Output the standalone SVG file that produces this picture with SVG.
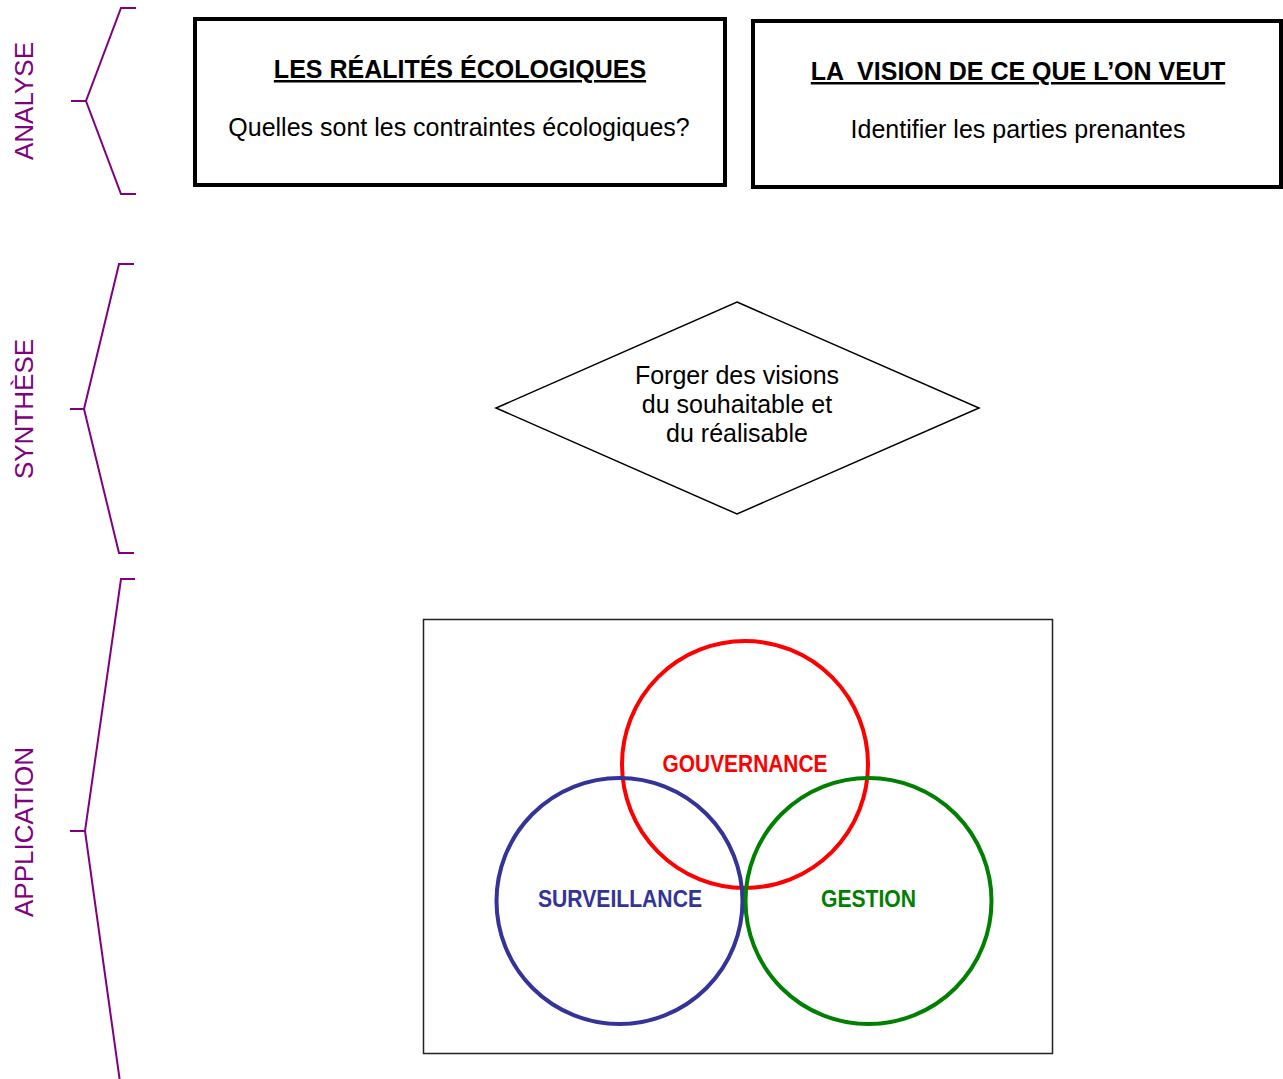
<svg xmlns="http://www.w3.org/2000/svg" width="1283" height="1079" viewBox="0 0 1283 1079">
<style>
.brace{fill:none;stroke:#800080;stroke-width:2}
.side{font-family:"Liberation Sans",Arial,sans-serif;font-size:26px;fill:#800080;text-anchor:middle}
.box{fill:#fff;stroke:#000;stroke-width:4}
.t{font-family:"Liberation Sans",Arial,sans-serif;font-size:25px;fill:#000;text-anchor:middle}
.title{font-weight:bold;text-decoration:underline}
.venn{fill:none;stroke-width:4}
.lab{font-family:"Liberation Sans",Arial,sans-serif;font-size:23px;font-weight:bold;text-anchor:middle}
</style>
<rect width="1283" height="1079" fill="#fff"/>
<g id="analyse">
<path class="brace" d="M136,8 H121 L86,101 L121,194 H136 M71,101 H86"/>
<text class="side" transform="translate(33,101) rotate(-90)">ANALYSE</text>
</g>
<g id="synthese">
<path class="brace" d="M134,264 H119 L84,409 L119,553 H134 M70,409 H84"/>
<text class="side" transform="translate(33,409) rotate(-90)">SYNTHÈSE</text>
</g>
<g id="application">
<path class="brace" d="M135,579 H121 L85,831 L120,1082 M70,831 H85"/>
<text class="side" transform="translate(33,832) rotate(-90)">APPLICATION</text>
</g>
<g id="realites">
<rect class="box" x="195" y="19" width="530" height="166"/>
<text class="t title" x="460" y="78">LES RÉALITÉS ÉCOLOGIQUES</text>
<text class="t" x="459" y="136">Quelles sont les contraintes écologiques?</text>
</g>
<g id="vision">
<rect class="box" x="753" y="21" width="528" height="166"/>
<text class="t title" x="1018" y="80" xml:space="preserve">LA  VISION DE CE QUE L’ON VEUT</text>
<text class="t" x="1018" y="138">Identifier les parties prenantes</text>
</g>
<g id="forger">
<polygon points="737,302 979,408 737,514 496,408" fill="#fff" stroke="#000" stroke-width="1.5"/>
<text class="t" x="737" y="384">Forger des visions</text>
<text class="t" x="737" y="413">du souhaitable et</text>
<text class="t" x="737" y="442">du réalisable</text>
</g>
<g id="cadre">
<rect x="423.5" y="619.5" width="629" height="434" fill="#fff" stroke="#222" stroke-width="1.5"/>
</g>
<g id="gouvernance">
<ellipse class="venn" cx="745" cy="764.5" rx="123" ry="123.5" stroke="#ff0000"/>
<text class="lab" x="745" y="772" fill="#ff0000" textLength="165" lengthAdjust="spacingAndGlyphs">GOUVERNANCE</text>
</g>
<g id="surveillance">
<ellipse class="venn" cx="619.5" cy="901" rx="123" ry="123" stroke="#333399"/>
<text class="lab" x="620" y="907" fill="#333399" textLength="164" lengthAdjust="spacingAndGlyphs">SURVEILLANCE</text>
</g>
<g id="gestion">
<ellipse class="venn" cx="868.5" cy="901" rx="123" ry="123" stroke="#008000"/>
<text class="lab" x="868.5" y="907" fill="#008000" textLength="95" lengthAdjust="spacingAndGlyphs">GESTION</text>
</g>
<g id="connectors"></g>
</svg>
